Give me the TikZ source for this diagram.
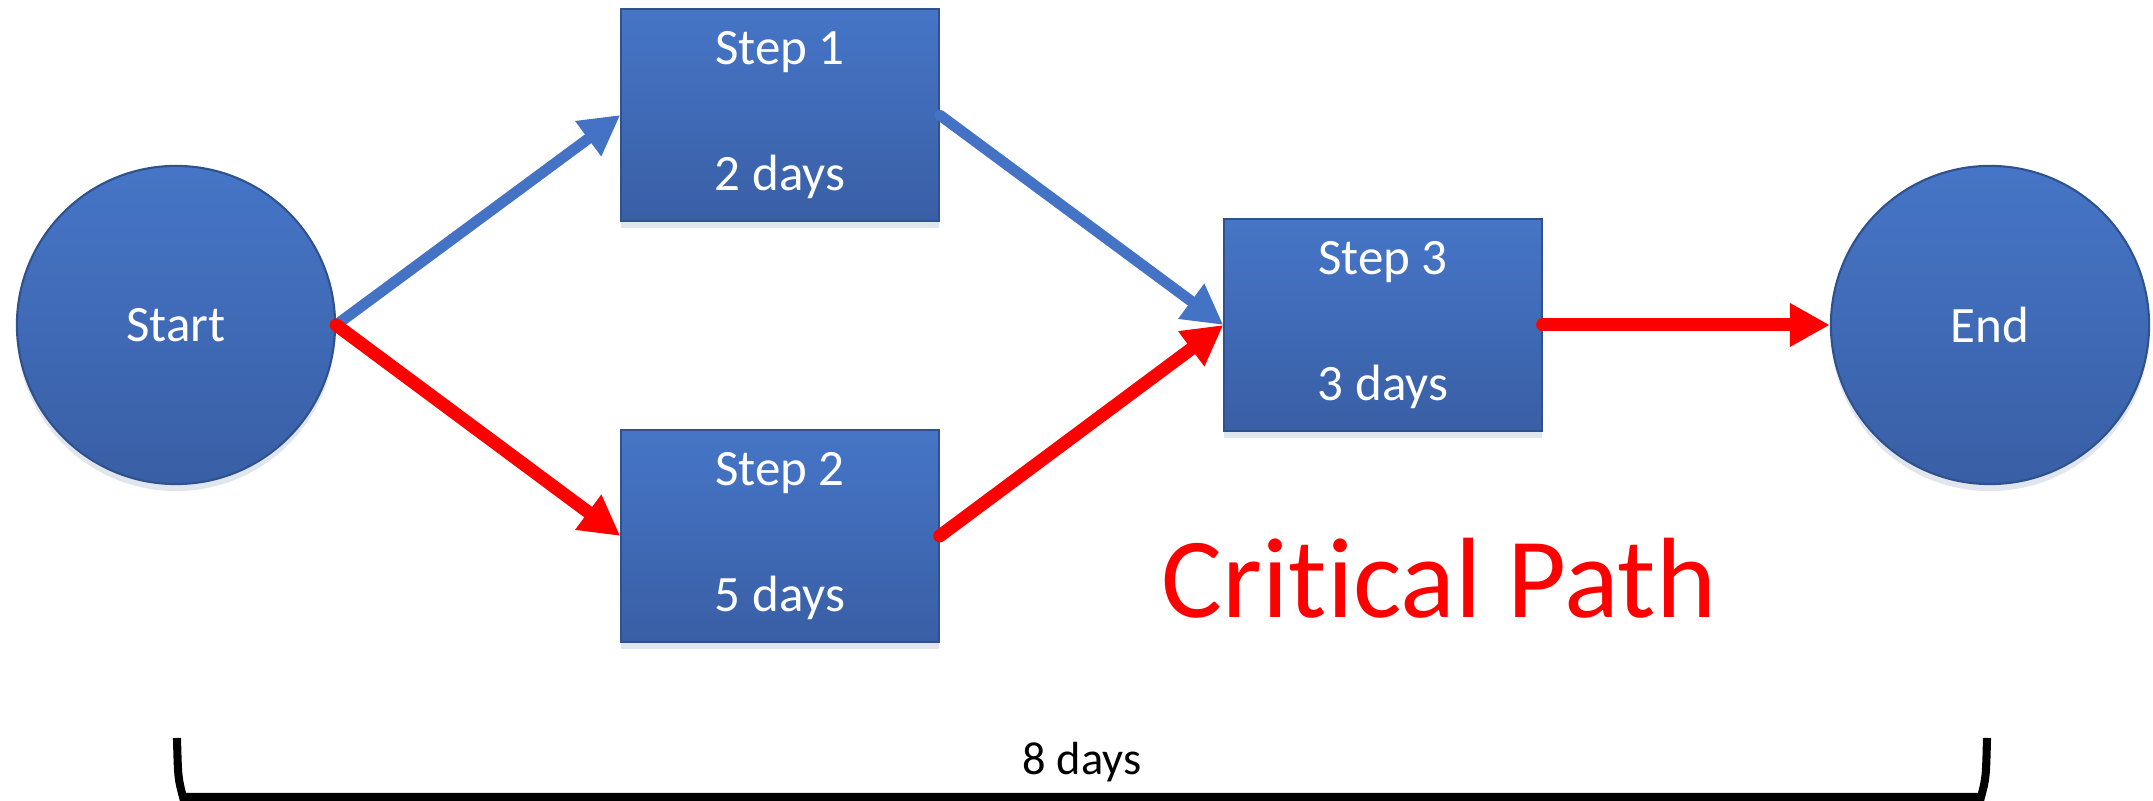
\documentclass[tikz,border=0pt]{standalone}
\usepackage{fontspec}
\setmainfont{Carlito}[Ligatures=NoCommon]
\usetikzlibrary{arrows.meta,shadows}

\definecolor{boxtop}{RGB}{70,117,199}
\definecolor{boxbot}{RGB}{57,95,165}
\definecolor{boxline}{RGB}{47,82,143}
\definecolor{flowblue}{RGB}{68,114,196}
\definecolor{critred}{RGB}{255,0,0}

\begin{document}
\begin{tikzpicture}[x=0.01cm, y=-0.01cm,
    stepbox/.style={draw=boxline, line width=0.6pt, top color=boxtop, bottom color=boxbot,
        minimum width=3.17cm, minimum height=2.12cm, inner sep=0pt, text=white, align=center,
        font=\fontsize{14.5}{36}\selectfont, execute at begin node={\rule{0pt}{12.7pt}},
        drop shadow={shadow xshift=0pt, shadow yshift=-2pt, opacity=0.15, fill=boxline}},
    event/.style={circle, draw=boxline, line width=0.6pt, top color=boxtop, bottom color=boxbot,
        minimum size=3.18cm, inner sep=0pt, text=white, font=\fontsize{14.5}{17}\selectfont,
        drop shadow={shadow xshift=0pt, shadow yshift=-2pt, opacity=0.15, fill=boxline}},
    normal/.style={draw=flowblue, line width=3.1pt, line cap=round,
        -{Triangle[length=0.4cm,width=0.41cm]}},
    critical/.style={draw=critred, line width=3.7pt, line cap=round,
        -{Triangle[length=0.4cm,width=0.41cm]}}
]
    \useasboundingbox (0,0) rectangle (2153,801);

    % events and steps
    \node[event] (start) at (176,325) {Start};
    \node[stepbox] (step1) at (780,115) {Step 1\\2 days};
    \node[stepbox] (step2) at (780,536) {Step 2\\5 days};
    \node[stepbox] (step3) at (1383,325) {Step 3\\3 days};
    \node[event] (end) at (1990,325) {End};

    % normal paths
    \draw[normal] (start.east) -- (step1.west);
    \draw[normal] (step1.east) -- (step3.west);
    % critical path
    \draw[critical] (start.east) -- (step2.west);
    \draw[critical] (step2.east) -- (step3.west);
    \draw[critical] (step3.east) -- (end.west);

    % Labels
    \node[text=critred, font=\fontsize{32.5}{39}\selectfont, anchor=base] (crit) at (1439,618) {Critical Path};
    \node[font=\fontsize{13.2}{16}\selectfont, anchor=base] (total) at (1082,775) {8 days};

    % bracket
    \coordinate (bl) at (177,738);
    \coordinate (br) at (1987,738);
    \draw[line width=2.3pt] (bl) .. controls (178,778) .. (183,797) -- (1981,797) .. controls (1986,778) .. (br);
\end{tikzpicture}
\end{document}
